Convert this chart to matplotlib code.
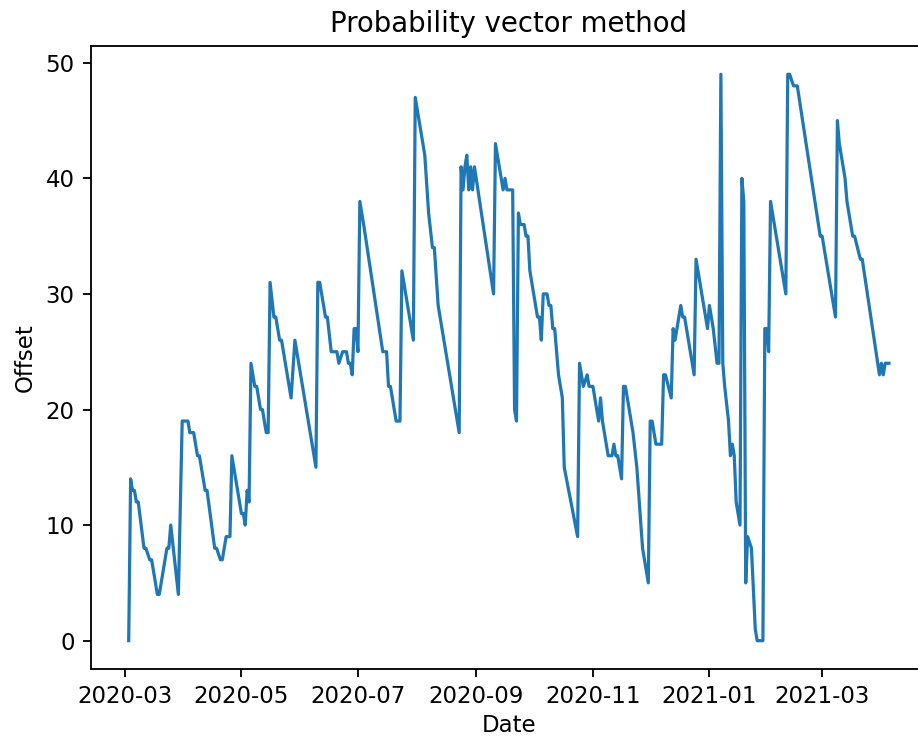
import pandas as pd
import matplotlib
matplotlib.use("Agg")
import matplotlib.pyplot as plt
import matplotlib.dates as mdates

# vertices of the daily offset series (date, offset)
dates = [
    "2020-03-03", "2020-03-04", "2020-03-05", "2020-03-06", "2020-03-07", "2020-03-08",
    "2020-03-11", "2020-03-12", "2020-03-14", "2020-03-15", "2020-03-18", "2020-03-19",
    "2020-03-23", "2020-03-24", "2020-03-25", "2020-03-29", "2020-03-31", "2020-04-03",
    "2020-04-04", "2020-04-06", "2020-04-08", "2020-04-09", "2020-04-12", "2020-04-13",
    "2020-04-17", "2020-04-18", "2020-04-20", "2020-04-21", "2020-04-23", "2020-04-25",
    "2020-04-26", "2020-04-28", "2020-05-01", "2020-05-02", "2020-05-03", "2020-05-04",
    "2020-05-05", "2020-05-06", "2020-05-08", "2020-05-09", "2020-05-11", "2020-05-12",
    "2020-05-13", "2020-05-14", "2020-05-15", "2020-05-16", "2020-05-18", "2020-05-19",
    "2020-05-21", "2020-05-22", "2020-05-27", "2020-05-29", "2020-06-09", "2020-06-10",
    "2020-06-11", "2020-06-14", "2020-06-15", "2020-06-17", "2020-06-20", "2020-06-21",
    "2020-06-23", "2020-06-25", "2020-06-26", "2020-06-27", "2020-06-28", "2020-06-29",
    "2020-06-30", "2020-07-01", "2020-07-02", "2020-07-04", "2020-07-14", "2020-07-16",
    "2020-07-17", "2020-07-18", "2020-07-20", "2020-07-21", "2020-07-23", "2020-07-24",
    "2020-07-30", "2020-07-31", "2020-08-02", "2020-08-05", "2020-08-07", "2020-08-09",
    "2020-08-10", "2020-08-12", "2020-08-23", "2020-08-24", "2020-08-25", "2020-08-26",
    "2020-08-27", "2020-08-28", "2020-08-29", "2020-08-30", "2020-08-31", "2020-09-10",
    "2020-09-11", "2020-09-13", "2020-09-15", "2020-09-16", "2020-09-17", "2020-09-20",
    "2020-09-21", "2020-09-22", "2020-09-23", "2020-09-24", "2020-09-26", "2020-09-27",
    "2020-09-28", "2020-09-29", "2020-10-02", "2020-10-03", "2020-10-04", "2020-10-05",
    "2020-10-06", "2020-10-08", "2020-10-09", "2020-10-10", "2020-10-11", "2020-10-12",
    "2020-10-14", "2020-10-16", "2020-10-17", "2020-10-24", "2020-10-25", "2020-10-27",
    "2020-10-29", "2020-10-30", "2020-11-01", "2020-11-02", "2020-11-04", "2020-11-05",
    "2020-11-06", "2020-11-09", "2020-11-11", "2020-11-12", "2020-11-13", "2020-11-14",
    "2020-11-16", "2020-11-17", "2020-11-18", "2020-11-22", "2020-11-24", "2020-11-27",
    "2020-11-28", "2020-11-30", "2020-12-01", "2020-12-02", "2020-12-04", "2020-12-07",
    "2020-12-08", "2020-12-09", "2020-12-12", "2020-12-13", "2020-12-14", "2020-12-15",
    "2020-12-17", "2020-12-18", "2020-12-19", "2020-12-24", "2020-12-25", "2020-12-27",
    "2020-12-31", "2021-01-01", "2021-01-03", "2021-01-05", "2021-01-06", "2021-01-07",
    "2021-01-08", "2021-01-09", "2021-01-11", "2021-01-12", "2021-01-13", "2021-01-14",
    "2021-01-15", "2021-01-17", "2021-01-18", "2021-01-19", "2021-01-20", "2021-01-21",
    "2021-01-23", "2021-01-25", "2021-01-26", "2021-01-29", "2021-01-30", "2021-01-31",
    "2021-02-01", "2021-02-02", "2021-02-10", "2021-02-11", "2021-02-12", "2021-02-14",
    "2021-02-16", "2021-02-28", "2021-03-01", "2021-03-08", "2021-03-09", "2021-03-10",
    "2021-03-13", "2021-03-14", "2021-03-17", "2021-03-18", "2021-03-21", "2021-03-22",
    "2021-03-31", "2021-04-01", "2021-04-02", "2021-04-03", "2021-04-05",
]
offsets = [
    0, 14, 13, 13, 12, 12,
    8, 8, 7, 7, 4, 4,
    8, 8, 10, 4, 19, 19,
    18, 18, 16, 16, 13, 13,
    8, 8, 7, 7, 9, 9,
    16, 14, 11, 11, 10, 13,
    12, 24, 22, 22, 20, 20,
    19, 18, 18, 31, 28, 28,
    26, 26, 21, 26, 15, 31,
    31, 28, 28, 25, 25, 24,
    25, 25, 24, 24, 23, 27,
    27, 25, 38, 36, 25, 25,
    22, 22, 20, 19, 19, 32,
    26, 47, 45, 42, 37, 34,
    34, 29, 18, 41, 39, 41,
    42, 39, 41, 39, 41, 30,
    43, 41, 39, 40, 39, 39,
    20, 19, 37, 36, 36, 35,
    35, 32, 29, 28, 28, 26,
    30, 30, 29, 29, 27, 27,
    23, 21, 15, 9, 24, 22,
    23, 22, 22, 21, 19, 21,
    19, 16, 16, 17, 16, 16,
    14, 22, 22, 18, 15, 8,
    7, 5, 19, 19, 17, 17,
    23, 23, 21, 27, 26, 27,
    29, 28, 28, 23, 33, 31,
    27, 29, 27, 24, 24, 49,
    24, 22, 19, 16, 17, 16,
    12, 10, 40, 38, 5, 9,
    8, 1, 0, 0, 27, 27,
    25, 38, 30, 49, 49, 48,
    48, 35, 35, 28, 45, 43,
    40, 38, 35, 35, 33, 33,
    23, 24, 23, 24, 24,
]

s = 1.65  # scale from default sizes to this picture
plt.rcParams.update({
    "font.size": 10 * s,
    "axes.linewidth": 0.8 * s,
    "xtick.major.size": 3.5 * s,
    "ytick.major.size": 3.5 * s,
    "xtick.major.width": 0.8 * s,
    "ytick.major.width": 0.8 * s,
    "xtick.major.pad": 3.5 * s,
    "ytick.major.pad": 3.5 * s,
    "axes.labelpad": 4 * s,
    "axes.titlepad": 6 * s,
})

fig = plt.figure(figsize=(9.18, 7.38), dpi=100)
ax = fig.add_axes([0.0988, 0.0935, 0.911, 0.8442])

ax.plot(pd.to_datetime(dates), offsets, color="#1f77b4", linewidth=1.4 * s)

ax.xaxis.set_major_locator(mdates.MonthLocator(bymonth=[1, 3, 5, 7, 9, 11]))
ax.xaxis.set_major_formatter(mdates.DateFormatter("%Y-%m"))
ax.set_yticks([0, 10, 20, 30, 40, 50])

ax.set_title("Probability vector method", fontsize=12 * s)
ax.set_xlabel("Date", labelpad=2.5 * s)
ax.set_ylabel("Offset")

fig.savefig("out.png", dpi=100)
